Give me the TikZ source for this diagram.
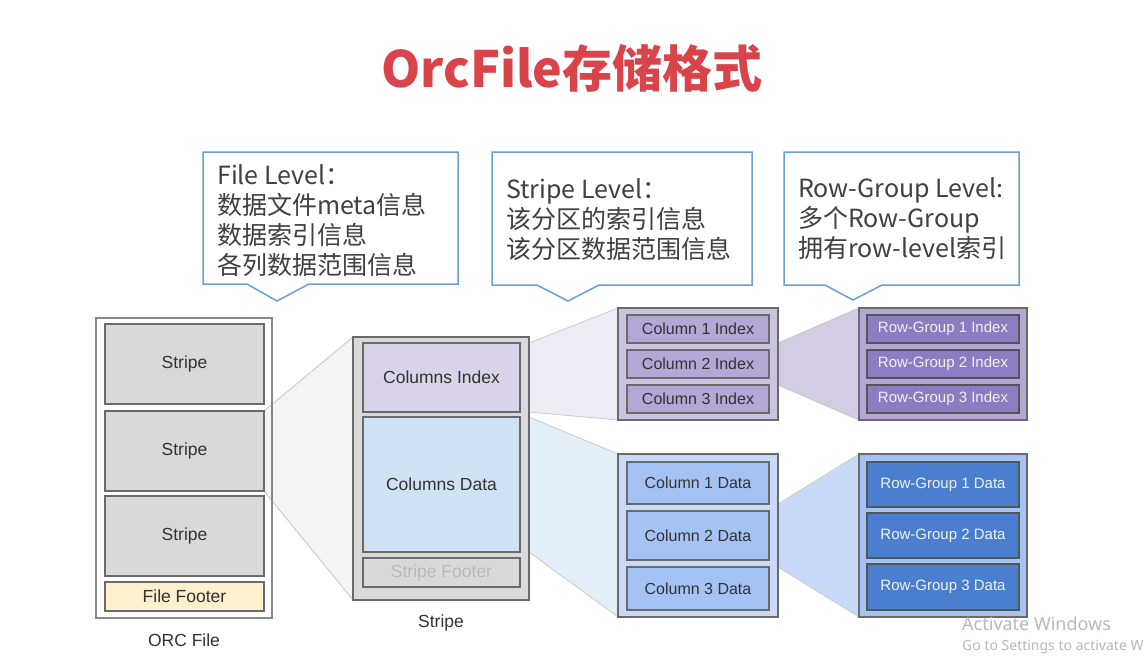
\documentclass[tikz,border=0pt]{standalone}
\usepackage{fontspec}
\setmainfont{Liberation Sans}
\newfontfamily\cjk{Noto Sans CJK SC}
\newfontfamily\winfont{Noto Sans}
\usetikzlibrary{backgrounds}

\definecolor{titlered}{HTML}{D9434A}
\definecolor{noteblue}{HTML}{6A9FD8}
\definecolor{notetxt}{HTML}{404040}
\definecolor{boxline}{HTML}{6A6A6A}
\definecolor{txt}{HTML}{333333}
\definecolor{stripegray}{HTML}{D9D9D9}
\definecolor{footeryellow}{HTML}{FDF0CC}
\definecolor{idxlight}{HTML}{D9D2E9}
\definecolor{datalight}{HTML}{CFE2F3}
\definecolor{idxgroup}{HTML}{CBC3DF}
\definecolor{idxcol}{HTML}{B4A7D6}
\definecolor{datagroup}{HTML}{C9DAF8}
\definecolor{datacol}{HTML}{A4C2F4}
\definecolor{rgidx}{HTML}{8E7CC3}
\definecolor{rgdata}{HTML}{4A7FCF}

\begin{document}
\begin{tikzpicture}[x=1pt,y=-1pt,
    box/.style={draw=boxline, line width=1.3pt, inner sep=0pt, outer sep=0pt,
        text=txt, font=\fontsize{17.5}{20}\selectfont},
    colbox/.style={box, font=\fontsize{16}{19}\selectfont},
    rgbox/.style={box, draw=boxline!80!black, text=white!88!gray, font=\fontsize{15}{18}\selectfont},
    caption/.style={text=txt, font=\fontsize{17.5}{20}\selectfont},
    callout/.style={draw=noteblue, line width=1.5pt, fill=white},
    note/.style={anchor=north west, inner sep=0pt, align=left, text=notetxt,
        font=\cjk\fontsize{25}{30}\selectfont},
    wm/.style={anchor=west, inner sep=0pt, text=gray!55, font=\winfont\fontsize{18}{20}\selectfont},
    trap/.style={line width=0.8pt}]
    \useasboundingbox (0,0) rectangle (1147,662);

    % title
    \node[font=\cjk\bfseries\fontsize{50}{60}\selectfont, text=titlered] (TT) at (572,68) {OrcFile存储格式};

    % callouts
    \draw[callout] (203,152) -- (458,152) -- (458,284) -- (309,284) -- (277,301) -- (247,284) -- (203,284) -- cycle;
    \node[note] (FL) at (217,164) {File Level：\\数据文件meta信息\\数据索引信息\\各列数据范围信息};
    \draw[callout] (492,152) -- (752,152) -- (752,285) -- (599,285) -- (568,301) -- (537,285) -- (492,285) -- cycle;
    \node[note] (SL) at (506,178) {Stripe Level：\\该分区的索引信息\\该分区数据范围信息};
    \draw[callout] (784,152) -- (1019,152) -- (1019,285) -- (882,285) -- (853,300) -- (825,285) -- (784,285) -- cycle;
    \node[note] (RL) at (798,177) {Row-Group Level:\\多个Row-Group\\拥有row-level索引};

    % orc file
    \node[box, draw=boxline!80, minimum width=176pt, minimum height=300pt] (OF) at (184,468) {};
    \node[box, fill=stripegray, minimum width=159pt, minimum height=80pt] (S1) at (184.5,364) {Stripe};
    \node[box, fill=stripegray, minimum width=159pt, minimum height=80pt] (S2) at (184.5,451) {Stripe};
    \node[box, fill=stripegray, minimum width=159pt, minimum height=80pt] (S3) at (184.5,536) {Stripe};
    \node[box, fill=footeryellow, minimum width=159pt, minimum height=29pt] (FF) at (184.5,596.5) {File Footer};
    \node[caption] (OFL) at (184,640) {ORC File};

    % stripe
    \node[box, fill=stripegray, minimum width=176pt, minimum height=263pt] (ST) at (441,468.5) {};
    \node[box, fill=idxlight, minimum width=157pt, minimum height=69pt] (CI) at (441.5,377.5) {Columns Index};
    \node[box, fill=datalight, minimum width=157pt, minimum height=135pt] (CD) at (441.5,484.5) {Columns Data};
    \node[box, fill=stripegray, text=gray!55, minimum width=157pt, minimum height=29pt] (SF) at (441.5,572.5) {Stripe Footer};
    \node[caption] (STL) at (441,623) {Stripe};

    % columns
    \node[box, fill=idxgroup, minimum width=160pt, minimum height=112pt] (CIG) at (698,364) {};
    \foreach \i/\y in {1/329,2/364,3/399}
        \node[colbox, fill=idxcol, minimum width=142pt, minimum height=28pt] (CI\i) at (698,\y) {Column \i\ Index};
    \node[box, fill=datagroup, minimum width=160pt, minimum height=163pt] (CDG) at (698,535.5) {};
    \foreach \i/\y/\h in {1/483/42,2/535.5/49,3/588.5/43}
        \node[colbox, fill=datacol, minimum width=142pt, minimum height=\h pt] (CD\i) at (698,\y) {Column \i\ Data};

    % row groups
    \node[box, fill=idxcol, minimum width=168pt, minimum height=112pt] (RIG) at (943,364) {};
    \foreach \i/\y in {1/329,2/364,3/399}
        \node[rgbox, fill=rgidx, minimum width=152pt, minimum height=28pt] (RI\i) at (943,\y) {Row-Group \i\ Index};
    \node[box, fill=datacol, minimum width=168pt, minimum height=163pt] (RDG) at (943,535.5) {};
    \foreach \i/\y/\h in {1/484.5/45,2/535.5/45,3/587/46}
        \node[rgbox, fill=rgdata, minimum width=152pt, minimum height=\h pt] (RD\i) at (943,\y) {Row-Group \i\ Data};

    % watermark
    \node[wm] (AW) at (962,624) {Activate Windows};
    \node[wm, font=\winfont\fontsize{14}{16}\selectfont] (GS) at (962,647) {Go to Settings to activate W};

    % zoom projections
    \begin{scope}[on background layer]
        \fill[white] (0,0) rectangle (1147,662);
        \filldraw[trap, fill=gray!9, draw=gray!45] (S2.north east) -- (ST.north west) -- (ST.south west) -- (S2.south east) -- cycle;
        \filldraw[trap, fill=idxlight!45, draw=gray!40] (ST.east |- CI.north) -- (CIG.north west) -- (CIG.south west) -- (ST.east |- CI.south) -- cycle;
        \filldraw[trap, fill=datalight!60, draw=gray!40] (ST.east |- CD.north) -- (CDG.north west) -- (CDG.south west) -- (ST.east |- CD.south) -- cycle;
        \filldraw[trap, fill=idxgroup!85, draw=gray!45] (CIG.east |- CI1.south) -- (RIG.north west) -- (RIG.south west) -- (CIG.east |- CI3.north) -- cycle;
        \filldraw[trap, fill=datagroup, draw=gray!40] (CDG.east |- CD1.south) -- (RDG.north west) -- (RDG.south west) -- (CDG.east |- CD3.north) -- cycle;
    \end{scope}
\end{tikzpicture}
\end{document}
